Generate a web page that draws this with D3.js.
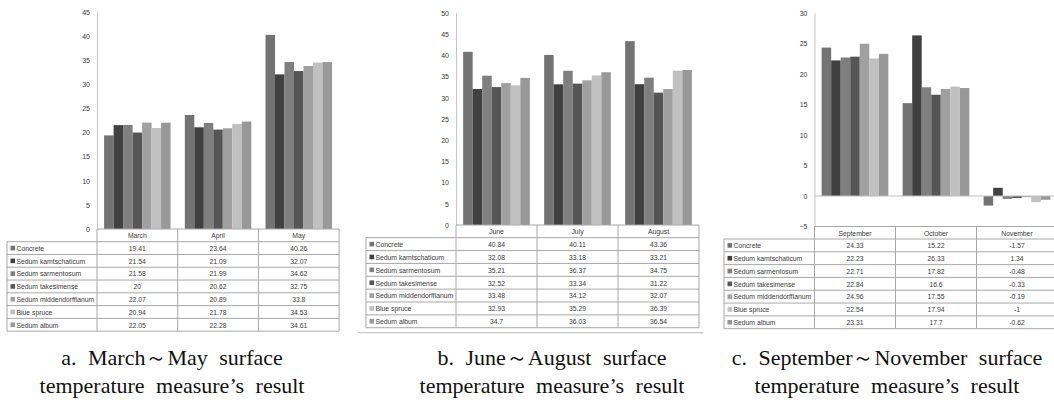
<!DOCTYPE html>
<html><head><meta charset="utf-8">
<script src="https://cdn.jsdelivr.net/npm/d3@7"></script>
<style>
html,body{margin:0;padding:0;background:#fff;}
svg{display:block;}
</style></head>
<body>
<svg id="chart" width="1054" height="404"></svg>
<script>
// ---------- DATA ----------
const seriesNames = ["Concrete","Sedum kamtschaticum","Sedum sarmentosum","Sedum takesimense","Sedum middendorffianum","Blue spruce","Sedum album"];

const monthsA = ["March","April","May"];
const concreteA = [19.41,23.64,40.26];
const kamtschaticumA = [21.54,21.09,32.07];
const sarmentosumA = [21.58,21.99,34.62];
const takesimenseA = [20,20.62,32.75];
const middendorffianumA = [22.07,20.89,33.8];
const blueSpruceA = [20.94,21.78,34.53];
const albumA = [22.05,22.28,34.61];
const ticksA = [0,5,10,15,20,25,30,35,40,45];

const monthsB = ["June","July","August"];
const concreteB = [40.84,40.11,43.36];
const kamtschaticumB = [32.08,33.18,33.21];
const sarmentosumB = [35.21,36.37,34.75];
const takesimenseB = [32.52,33.34,31.22];
const middendorffianumB = [33.48,34.12,32.07];
const blueSpruceB = [32.93,35.29,36.39];
const albumB = [34.7,36.03,36.54];
const ticksB = [0,5,10,15,20,25,30,35,40,45,50];

const monthsC = ["September","October","November"];
const concreteC = [24.33,15.22,-1.57];
const kamtschaticumC = [22.23,26.33,1.34];
const sarmentosumC = [22.71,17.82,-0.48];
const takesimenseC = [22.84,16.6,-0.33];
const middendorffianumC = [24.96,17.55,-0.19];
const blueSpruceC = [22.54,17.94,-1];
const albumC = [23.31,17.7,-0.62];
const ticksC = [-5,0,5,10,15,20,25,30];

const captionsA = ["a. March～May surface","temperature measure’s result"];
const captionsB = ["b. June～August surface","temperature measure’s result"];
const captionsC = ["c. September～November surface","temperature measure’s result"];

// ---------- STYLE ----------
const seriesColors = ["#737373","#404040","#7f7f7f","#555555","#a0a0a0","#c0c0c0","#989898"];

const panels = [
  {months: monthsA, series:[concreteA,kamtschaticumA,sarmentosumA,takesimenseA,middendorffianumA,blueSpruceA,albumA],
   ticks: ticksA, axisX: 97, yTop: 12, yBottom: 229, zeroLine:false,
   tableLeft: 7, colW: 80.7, rowH: 12.78, headerTop: 229, headerH: 12.7, caption: captionsA, capX: 172, sep:false},
  {months: monthsB, series:[concreteB,kamtschaticumB,sarmentosumB,takesimenseB,middendorffianumB,blueSpruceB,albumB],
   ticks: ticksB, axisX: 456, yTop: 13, yBottom: 225, zeroLine:false,
   tableLeft: 366, colW: 81, rowH: 12.86, headerTop: 225, headerH: 12.7, caption: captionsB, capX: 552, sep:true},
  {months: monthsC, series:[concreteC,kamtschaticumC,sarmentosumC,takesimenseC,middendorffianumC,blueSpruceC,albumC],
   ticks: ticksC, axisX: 814.5, yTop: 13, yBottom: 226.5, zeroLine:true,
   tableLeft: 724, colW: 81, rowH: 12.81, headerTop: 226.5, headerH: 12.5, caption: captionsC, capX: 887, sep:false}
];

const svg = d3.select("#chart");
const borderColor = "#a8a8a8";
const textColor = "#3a3a3a";
const fontSans = "'Liberation Sans', Arial, sans-serif";

panels.forEach(p => {
  const g = svg.append("g");
  const y = d3.scaleLinear().domain(d3.extent(p.ticks)).range([p.yBottom, p.yTop]);
  const x0 = d3.scaleBand().domain(p.months).range([p.axisX, p.axisX + p.colW * p.months.length]).padding(0);
  const x1 = d3.scaleBand().domain(seriesNames).range([0, x0.bandwidth()]).paddingInner(0).paddingOuter(0.75);

  // bars
  p.months.forEach((m, mi) => {
    seriesNames.forEach((s, si) => {
      const v = p.series[si][mi];
      g.append("rect")
        .attr("x", x0(m) + x1(s))
        .attr("width", x1.bandwidth())
        .attr("y", Math.min(y(v), y(0)))
        .attr("height", Math.abs(y(v) - y(0)))
        .attr("fill", seriesColors[si]);
    });
  });

  // zero line
  if (p.zeroLine) {
    g.append("line").attr("x1", p.axisX).attr("x2", x0.range()[1])
      .attr("y1", y(0)).attr("y2", y(0)).attr("stroke", "#bdbdbd").attr("stroke-width", 1);
  }

  // y axis
  const ax = g.append("g").attr("transform", `translate(${p.axisX},0)`)
    .call(d3.axisLeft(y).tickValues(p.ticks).tickSizeInner(0).tickSizeOuter(0).tickPadding(7).tickFormat(d3.format("d")));
  ax.select(".domain").attr("stroke", "#c4c4c4");
  ax.selectAll("text").attr("font-family", fontSans).attr("font-size", "7px").attr("fill", textColor);

  // data table
  const tLeft = p.tableLeft, tRight = x0.range()[1];
  const rowsTop = p.headerTop + p.headerH;
  const tBottom = rowsTop + p.rowH * seriesNames.length;
  const tb = g.append("g").attr("stroke", borderColor).attr("stroke-width", 1).attr("fill", "none");
  tb.append("line").attr("x1", p.axisX).attr("x2", tRight).attr("y1", p.headerTop).attr("y2", p.headerTop);
  for (let i = 0; i <= seriesNames.length; i++) {
    const yy = rowsTop + p.rowH * i;
    tb.append("line").attr("x1", tLeft).attr("x2", tRight).attr("y1", yy).attr("y2", yy);
  }
  tb.append("line").attr("x1", tLeft).attr("x2", tLeft).attr("y1", rowsTop).attr("y2", tBottom);
  tb.append("line").attr("x1", p.axisX).attr("x2", p.axisX).attr("y1", p.headerTop).attr("y2", tBottom);
  p.months.forEach(m => {
    const xr = x0(m) + x0.bandwidth();
    tb.append("line").attr("x1", xr).attr("x2", xr).attr("y1", p.headerTop).attr("y2", tBottom);
  });

  const tt = g.append("g").attr("font-family", fontSans).attr("font-size", "6.8px").attr("fill", textColor);
  p.months.forEach(m => {
    tt.append("text").attr("x", x0(m) + x0.bandwidth() / 2).attr("y", p.headerTop + p.headerH / 2 + 0.3)
      .attr("text-anchor", "middle").attr("dominant-baseline", "central").text(m);
  });
  seriesNames.forEach((s, si) => {
    const cy = rowsTop + p.rowH * si + p.rowH / 2;
    tt.append("rect").attr("x", tLeft + 3.5).attr("y", cy - 2.3).attr("width", 4.6).attr("height", 4.6).attr("fill", seriesColors[si]);
    tt.append("text").attr("x", tLeft + 9.5).attr("y", cy + 0.3).attr("dominant-baseline", "central").text(s);
    p.months.forEach((m, mi) => {
      tt.append("text").attr("x", x0(m) + x0.bandwidth() / 2).attr("y", cy + 0.3)
        .attr("text-anchor", "middle").attr("dominant-baseline", "central").text(String(p.series[si][mi]));
    });
  });

  if (p.sep) {
    g.append("line").attr("x1", tLeft - 8).attr("x2", tRight + 4).attr("y1", tBottom + 5).attr("y2", tBottom + 5)
      .attr("stroke", "#bcbcbc").attr("stroke-width", 1);
  }

  // caption
  const cap = g.append("g").attr("font-family", "'Liberation Serif', 'Times New Roman', serif")
    .attr("font-size", "22px").attr("fill", "#111").attr("text-anchor", "middle").attr("word-spacing", "6px");
  cap.append("text").attr("x", p.capX).attr("y", 365).text(p.caption[0]);
  cap.append("text").attr("x", p.capX).attr("y", 393).text(p.caption[1]);
});
</script>
</body></html>
